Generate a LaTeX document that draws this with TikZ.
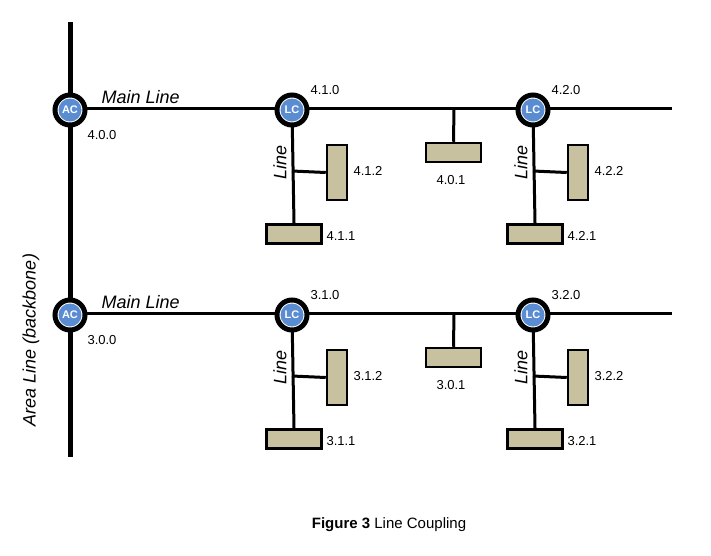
\documentclass[tikz,border=0pt]{standalone}
\usepackage{fontspec}
\setmainfont{Liberation Sans}
\begin{document}
\begin{tikzpicture}[x=1pt,y=-1pt,
  coupler/.style={circle,fill=white,draw=black,line width=5pt,minimum size=30pt,inner sep=0pt,
    path picture={\fill[blue!45!cyan!60!black!0,fill=cb] (path picture bounding box.center) circle (11.5pt);},
    font=\fontsize{11}{11}\selectfont\bfseries,text=white},
  dev/.style={draw=black,line width=2.5pt,fill=devc,inner sep=0pt},
  addr/.style={font=\fontsize{13}{13}\selectfont},
  lbl/.style={font=\fontsize{18}{18}\selectfont\itshape},
  ln/.style={line width=3pt}]
\definecolor{cb}{RGB}{90,140,210}
\definecolor{devc}{RGB}{200,193,160}
\useasboundingbox (0,0) rectangle (711,555);
\draw[line width=5pt] (70,22) -- (70,457);
\node[rotate=90,lbl] (area) at (31,340) {Area Line (backbone)};
\foreach \r/\dy in {4/0,3/205}{
 \begin{scope}[yshift=-\dy pt]
  \draw[ln] (70,108) -- (672,108);
  \node[coupler] (ac\r) at (70,110) {AC};
  \node[lbl,anchor=west] (ml\r) at (98,97) {Main Line};
  \node[addr,anchor=west] at (84,135) {\r.0.0};
  % middle device
  \node[dev,minimum width=55pt,minimum height=19pt] (m\r) at (453.5,152.5) {};
  \draw[ln] (454,108) -- (m\r.north);
  \node[addr] at (451,180) {\r.0.1};
  \foreach \c/\x in {1/292,2/533}{
    \node[dev,minimum width=20pt,minimum height=55pt] (s\r\c) at (\x+45,172.5) {};
    \node[dev,minimum width=55pt,minimum height=19pt] (b\r\c) at (\x+2,234) {};
    \draw[ln] (\x,110) -- (b\r\c.north);
    \draw[ln] (\x,171) -- (s\r\c.west);
    \node[coupler] (lc\r\c) at (\x,110) {LC};
    \node[addr,anchor=west] at (\x+15,90) {\r.\c.0};
    \node[addr,anchor=west] at (\x+58,171) {\r.\c.2};
    \node[addr,anchor=west] at (\x+31,236) {\r.\c.1};
    \node[lbl,rotate=90] at (\x-12,162) {Line};
  }
 \end{scope}}
\node[font=\fontsize{15}{15}\selectfont] (cap) at (389,525) {\textbf{Figure 3} Line Coupling};
\end{tikzpicture}
\end{document}
